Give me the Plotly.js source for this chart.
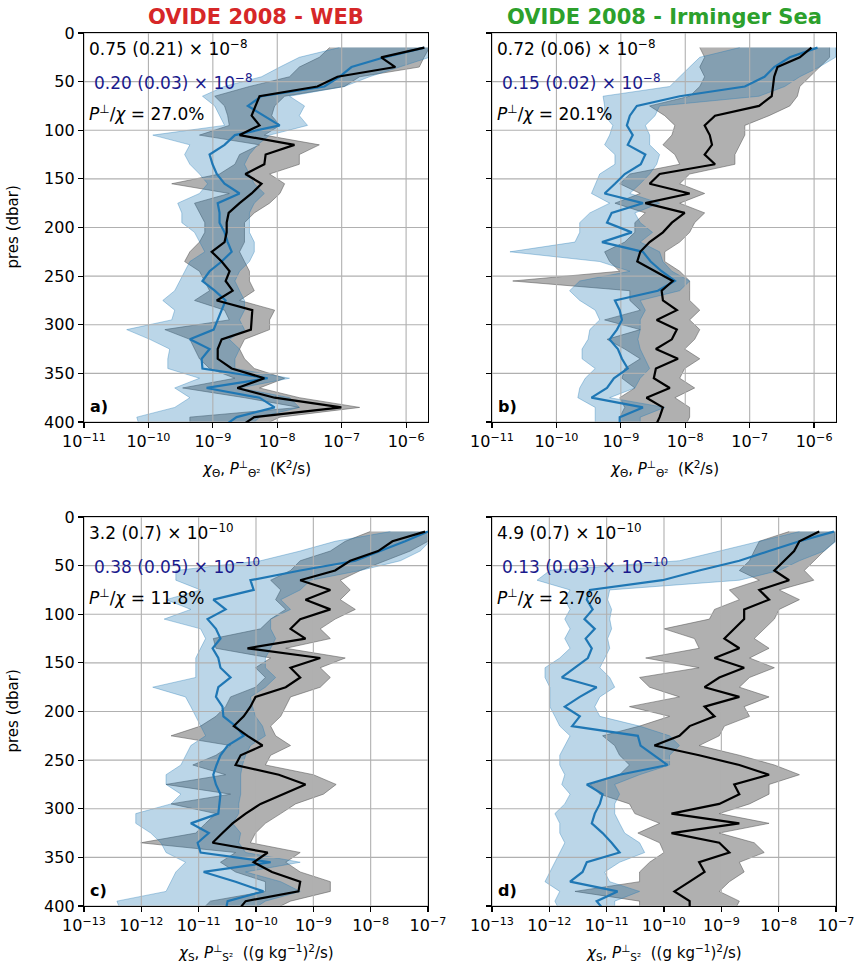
<!DOCTYPE html>
<html><head><meta charset="utf-8">
<script src="https://cdn.plot.ly/plotly-3.0.1.min.js"></script>
<style>body{margin:0;background:#fff}#plot{width:862px;height:970px}</style>
</head><body><div id="plot"></div>
<script>
// pressure levels (dbar)
const pres = [15,25,35,45,55,65,75,85,95,105,115,125,135,145,155,165,175,185,195,205,215,225,235,245,255,265,275,285,295,305,315,325,335,345,355,365,375,385,395,405];

// Panel a: OVIDE 2008 - WEB, temperature
const chiA   = [1.92e-6,4.1e-7,6.8e-7,8.6e-8,4.2e-8,5.3e-9,4.6e-9,4.0e-9,5.3e-9,2.6e-9,1.85e-8,6.6e-9,6.3e-9,3.2e-9,5.7e-9,4.0e-9,2.6e-9,1.76e-9,1.64e-9,1.64e-9,1.52e-9,9.6e-10,1.37e-9,1.82e-9,1.58e-9,2.03e-9,1.15e-9,4.1e-9,4.0e-9,3.9e-9,1.37e-9,1.19e-9,1.19e-9,1.96e-9,6.3e-9,2.4e-9,9.1e-9,9.9e-8,4.4e-9,2.6e-9];
const chiALo = [6.5e-8,4.5e-8,2.2e-8,1.55e-8,3.7e-9,1.07e-9,1.52e-9,1.7e-9,1.8e-9,6.2e-10,5.3e-9,2.6e-9,2.2e-9,1.27e-9,2.3e-10,1.8e-9,5.2e-10,6.2e-10,7.5e-10,7.5e-10,6.2e-10,4.4e-10,3.65e-10,6.2e-10,7.5e-10,8.9e-10,5.2e-10,1.52e-9,1.8e-9,1.8e-10,4.4e-10,5.2e-10,6.2e-10,8.9e-10,2.2e-9,3.4e-10,3.1e-9,2.2e-8,4.4e-10,4.4e-10];
const chiAHi = [2.3e-6,1.9e-6,1.6e-6,1.9e-7,1.1e-7,1.3e-8,9.1e-9,8.2e-9,1.1e-8,6.3e-9,4.5e-8,2.2e-8,2.2e-8,7.6e-9,1.3e-8,1.1e-8,7.6e-9,4.4e-9,3.1e-9,3.1e-9,3.1e-9,2.6e-9,3.1e-9,3.7e-9,3.7e-9,4.4e-9,2.6e-9,9.1e-9,7.6e-9,7.6e-9,3.1e-9,2.6e-9,3.1e-9,4.4e-9,1.3e-8,5.3e-9,2.2e-8,1.9e-7,1.1e-8,5.3e-9];
const perpA   = [1.92e-6,4.6e-7,1.42e-7,9.2e-8,5.4e-8,5.7e-9,3.5e-9,6.3e-9,1.09e-8,2.2e-9,1.52e-9,8.9e-10,9.9e-10,1.15e-9,1.52e-9,2.6e-9,1.19e-9,1.27e-9,1.27e-9,1.52e-9,1.7e-9,1.96e-9,1.37e-9,8.9e-10,6.9e-10,1.07e-9,1.58e-9,1.37e-9,1.19e-9,1.03e-9,4.4e-10,8.9e-10,6.7e-10,6.9e-10,7.1e-9,8.0e-10,5.3e-9,9.1e-9,2.34e-9,1.42e-9];
const perpALo = [9.2e-8,2.2e-8,1.1e-8,5.7e-9,1.5e-9,6.9e-10,1.07e-9,1.27e-9,1.52e-9,1.17e-10,4.4e-10,3.65e-10,4.4e-10,6.2e-10,8.3e-10,6.2e-10,2.85e-10,3.3e-10,3.3e-10,5.2e-10,6.2e-10,7.5e-10,4.4e-10,3.65e-10,3.06e-10,2.56e-10,1.67e-10,2.56e-10,2.3e-10,4.6e-11,1.05e-10,2.14e-10,2.0e-10,2.0e-10,6.2e-10,2.56e-10,4.4e-10,2.56e-10,6.6e-11,7.3e-11];
const perpAHi = [2.3e-6,2.3e-6,7.9e-7,2.7e-7,1.1e-7,1.55e-8,2.65e-8,2.2e-8,2.95e-8,7.6e-9,4.95e-9,3.7e-9,3.1e-9,3.7e-9,4.4e-9,6.3e-9,4.4e-9,3.7e-9,3.7e-9,3.7e-9,4.4e-9,4.4e-9,3.7e-9,2.6e-9,2.2e-9,2.6e-9,3.1e-9,3.1e-9,2.6e-9,3.1e-9,1.8e-9,2.6e-9,2.2e-9,2.2e-9,1.55e-8,2.6e-9,1.55e-8,2.2e-8,5.3e-9,3.7e-9];

// Panel b: OVIDE 2008 - Irminger Sea, temperature
const chiB   = [9.1e-7,6.0e-7,2.7e-7,2.4e-7,2.3e-7,2.2e-7,1.4e-7,2.9e-8,2.0e-8,2.4e-8,2.6e-8,2.0e-8,2.9e-8,4.0e-9,2.8e-9,1.17e-8,2.4e-9,9.8e-9,6.2e-9,4.5e-9,2.8e-9,2.0e-9,1.8e-9,3.4e-9,6.4e-9,4.3e-9,4.5e-9,7.4e-9,3.6e-9,7.4e-9,6.2e-9,3.5e-9,7.7e-9,3.5e-9,3.25e-9,5.75e-9,2.5e-9,4.5e-9,4.0e-9,3.4e-9];
const chiBLo = [1.68e-8,2.0e-8,1.68e-8,2.0e-8,1.68e-8,1.17e-8,2.8e-9,4.8e-9,6.9e-9,6.2e-9,4.5e-9,6.9e-9,8.2e-9,1.38e-9,9.6e-10,2.0e-9,8.1e-10,2.4e-9,1.65e-9,1.65e-9,1.15e-9,5.6e-10,6.7e-10,9.6e-10,2.1e-11,1.38e-9,1.38e-9,2.0e-9,5.6e-10,2.0e-9,6.1e-10,1.15e-9,2.0e-9,1.15e-9,1.04e-9,1.65e-9,9.6e-10,1.15e-9,9.6e-10,9.6e-10];
const chiBHi = [1.74e-6,1.74e-6,1.2e-6,8.5e-7,6.0e-7,5.5e-7,4.2e-7,2.0e-7,8.4e-8,8.4e-8,7.0e-8,5.9e-8,5.9e-8,1.17e-8,8.2e-9,2.0e-8,8.2e-9,2.0e-8,1.4e-8,1.17e-8,8.2e-9,4.8e-9,4.8e-9,8.2e-9,1.17e-8,1.17e-8,1.17e-8,1.68e-8,1.17e-8,1.68e-8,1.4e-8,9.8e-9,1.68e-8,9.8e-9,8.2e-9,1.4e-8,6.9e-9,1.17e-8,1.17e-8,9.8e-9];
const perpB   = [1.13e-6,4.2e-7,2.4e-7,1.7e-7,8.4e-8,8.2e-9,1.77e-9,1.38e-9,1.24e-9,1.53e-9,1.28e-9,2.4e-9,2.04e-9,1.15e-9,8.1e-10,5.6e-10,2.2e-9,7.2e-10,6.1e-10,1.48e-9,5.1e-10,2.2e-9,2.9e-9,4.3e-9,6.9e-9,3.75e-9,8.1e-10,9.6e-10,1.04e-9,8.7e-10,6.7e-10,9.0e-10,1.04e-9,1.28e-9,7.8e-10,6.1e-10,3.5e-10,2.2e-9,9.6e-10,9.6e-10];
const perpBLo = [7.0e-8,1.68e-8,1.17e-8,8.2e-9,5.75e-9,5.3e-10,5.6e-10,5.6e-10,7.5e-10,6.7e-10,5.6e-10,8.1e-10,8.1e-10,4.7e-10,4.0e-10,3.5e-10,6.7e-10,3.3e-10,2.3e-10,2.3e-10,1.94e-10,1.9e-11,4.7e-10,1.38e-9,2.3e-10,1.6e-10,2.3e-10,4.0e-10,4.7e-10,3.3e-10,3.1e-10,2.5e-10,2.5e-10,4.0e-10,2.8e-10,2.3e-10,2.15e-10,4.0e-10,4.0e-10,4.0e-10];
const perpBHi = [2.15e-6,2.15e-6,1.2e-6,6.0e-7,3.5e-7,1.4e-7,4.0e-9,3.4e-9,2.4e-9,2.8e-9,2.8e-9,4.0e-9,3.6e-9,2.8e-9,2.0e-9,1.38e-9,4.0e-9,1.65e-9,2.0e-9,3.1e-9,2.0e-9,4.0e-9,4.5e-9,6.2e-9,1.17e-8,8.2e-9,2.0e-9,2.4e-9,2.0e-9,2.0e-9,1.84e-9,2.0e-9,2.4e-9,2.8e-9,2.0e-9,1.65e-9,6.7e-10,4.8e-9,2.0e-9,2.0e-9];

// Panel c: OVIDE 2008 - WEB, salinity
const chiC   = [8.9e-8,2.4e-8,1.35e-8,4.4e-9,2.4e-9,5.9e-10,1.98e-9,7.3e-10,1.98e-9,5.9e-10,4.0e-10,7.3e-10,7.1e-11,1.32e-9,4.0e-10,5.9e-10,3.3e-10,9.8e-11,8.0e-11,6.1e-11,4.1e-11,7.1e-11,1.3e-10,5.4e-11,4.4e-11,2.5e-10,7.3e-10,3.0e-10,1.2e-10,6.6e-11,3.9e-11,2.6e-11,1.75e-11,1.6e-10,9.1e-11,1.9e-10,5.9e-10,5.5e-10,6.6e-11,4.8e-11];
const chiCLo = [9.8e-9,3.6e-9,1.98e-9,5.9e-10,4.0e-10,1.8e-10,2.7e-10,2.2e-10,3.3e-10,1.8e-10,1.2e-10,1.8e-11,2.0e-11,1.8e-10,9.8e-11,1.46e-10,9.8e-11,3.6e-11,2.95e-11,2.0e-11,1.08e-11,3.3e-12,3.6e-11,2.0e-11,7.9e-12,2.95e-11,2.7e-12,3.6e-11,3.3e-12,2.0e-11,1.32e-11,8.9e-12,9.8e-13,4.4e-11,2.4e-11,4.4e-11,1.46e-10,1.46e-10,1.6e-11,1.08e-11];
const chiCHi = [1.08e-7,1.0e-7,4.9e-8,1.8e-8,6.6e-9,2.95e-9,4.4e-9,2.95e-9,5.4e-9,2.4e-9,1.32e-9,1.98e-9,3.3e-10,3.6e-9,1.32e-9,1.98e-9,1.32e-9,4.0e-10,3.3e-10,2.7e-10,1.8e-10,2.2e-10,4.0e-10,1.8e-10,1.46e-10,1.0e-9,2.5e-9,1.5e-9,4.9e-10,2.7e-10,1.46e-10,9.8e-11,8.0e-11,5.9e-10,3.3e-10,5.9e-10,1.98e-9,1.98e-9,4.0e-10,1.8e-10];
const perpC   = [1.0e-7,4.0e-8,1.46e-8,5.4e-9,5.9e-10,8.0e-11,9.1e-11,1.8e-11,2.95e-11,1.43e-11,2.0e-11,2.4e-11,1.75e-11,2.2e-11,2.4e-11,3.6e-11,2.2e-11,2.0e-11,2.6e-11,2.7e-11,4.4e-11,6.1e-11,3.2e-11,2.4e-11,2.05e-11,1.8e-11,2.0e-11,2.4e-11,2.3e-11,2.2e-11,7.3e-12,1.5e-11,9.6e-12,1.08e-11,1.8e-10,1.22e-11,4.4e-11,1.35e-10,3.2e-11,2.95e-11];
const perpCLo = [2.2e-8,2.4e-9,5.9e-10,1.2e-10,4.0e-12,4.0e-12,1.08e-11,2.7e-12,7.3e-12,2.5e-12,1.08e-11,1.32e-11,1.08e-11,8.9e-12,8.9e-12,8.9e-12,1.58e-12,5.9e-12,7.3e-12,8.9e-12,1.08e-11,1.32e-11,7.3e-12,5.9e-12,4.9e-12,2.7e-12,2.7e-12,4.9e-12,3.3e-12,8.0e-13,8.0e-13,1.46e-12,2.2e-12,2.7e-12,5.9e-12,4.0e-12,3.3e-12,2.7e-12,3.75e-13,4.4e-13];
const perpCHi = [1.08e-7,1.08e-7,7.3e-8,3.3e-8,6.6e-9,8.9e-10,5.9e-10,2.7e-10,4.0e-10,1.8e-10,1.8e-10,2.2e-10,1.8e-10,1.46e-10,1.46e-10,2.2e-10,1.46e-10,8.0e-11,8.7e-11,9.8e-11,1.3e-10,1.46e-10,8.0e-11,6.6e-11,5.8e-11,5.4e-11,5.4e-11,5.4e-11,5.0e-11,5.0e-11,3.9e-11,5.4e-11,5.0e-11,6.6e-11,5.9e-10,6.6e-11,2.7e-10,5.9e-10,1.46e-10,8.0e-11];

// Panel d: OVIDE 2008 - Irminger Sea, salinity
const chiD   = [5.1e-8,2.3e-8,1.86e-8,1.25e-8,8.4e-9,1.52e-8,4.6e-9,6.8e-9,2.5e-9,2.5e-9,1.68e-9,1.13e-9,2.06e-9,7.6e-10,2.5e-9,9.2e-10,5.1e-10,2.06e-9,5.1e-10,7.6e-10,2.8e-10,1.86e-10,6.8e-11,4.1e-10,2.06e-9,6.8e-9,1.68e-9,2.06e-9,9.2e-10,1.35e-10,2.06e-9,1.35e-10,9.2e-10,1.38e-9,4.1e-10,5.1e-10,2.8e-10,1.52e-10,2.8e-10,2.8e-10];
const chiDLo = [1.52e-8,4.6e-9,3.75e-9,3.1e-9,2.06e-9,4.6e-9,1.38e-9,2.06e-9,7.6e-10,6.2e-10,1.0e-10,3.4e-10,4.1e-10,4.8e-11,4.1e-10,3.75e-11,5.6e-11,1.86e-10,2.5e-11,1.25e-10,3.75e-11,8.5e-12,1.38e-11,1.68e-11,2.5e-11,1.68e-11,5.1e-12,7.6e-12,2.5e-11,3.1e-11,8.4e-11,3.5e-11,8.4e-11,1.0e-10,5.6e-11,3.75e-11,3.75e-11,2.8e-12,3.75e-11,3.75e-11];
const chiDHi = [9.6e-8,9.6e-8,6.2e-8,4.1e-8,2.8e-8,4.1e-8,1.02e-8,2.3e-8,1.02e-8,8.4e-9,5.6e-9,3.75e-9,6.8e-9,3.1e-9,8.4e-9,3.1e-9,2.06e-9,6.8e-9,2.5e-9,3.1e-9,1.13e-9,9.2e-10,4.1e-10,2.06e-9,8.4e-9,2.3e-8,6.8e-9,6.8e-9,3.1e-9,9.2e-10,6.8e-9,9.2e-10,3.75e-9,5.6e-9,2.06e-9,2.5e-9,1.38e-9,9.2e-10,2.06e-9,1.68e-9];
const perpD   = [9.2e-8,2.3e-8,6.8e-9,2.06e-9,4.1e-10,9.4e-11,5.1e-12,4.5e-12,5.7e-12,4.1e-12,6.2e-12,4.3e-12,5.5e-12,4.7e-12,2.8e-12,1.65e-12,6.7e-12,3.4e-12,1.86e-12,3.4e-12,2.5e-12,3.5e-11,3.9e-11,6.8e-11,1.15e-10,1.68e-11,4.5e-12,8.5e-12,7.6e-12,6.2e-12,5.5e-12,8.5e-12,1.22e-11,1.68e-11,4.5e-12,3.8e-12,2.3e-12,1.55e-11,6.7e-12,9.2e-12];
const perpDLo = [2.3e-8,4.6e-9,9.2e-10,1.86e-10,1.02e-12,6.1e-13,2.3e-12,1.86e-12,2.3e-12,1.86e-12,2.3e-12,1.86e-12,2.3e-12,1.52e-12,8.4e-13,8.4e-13,1.02e-12,1.02e-12,1.02e-12,1.25e-12,1.52e-12,2.3e-12,1.86e-12,1.52e-12,1.52e-12,1.86e-12,1.65e-12,2.3e-12,1.86e-12,1.25e-12,1.52e-12,1.52e-12,1.86e-12,1.52e-12,1.25e-12,1.02e-12,8.4e-13,1.52e-12,1.25e-12,1.52e-12];
const perpDHi = [1.0e-7,1.0e-7,6.2e-8,2.3e-8,1.02e-8,2.06e-9,1.13e-11,1.04e-11,1.22e-11,1.13e-11,1.22e-11,1.04e-11,1.13e-11,9.2e-12,7.6e-12,1.13e-11,1.38e-11,7.6e-12,6.2e-12,7.6e-12,3.75e-11,1.25e-10,1.86e-10,1.25e-10,1.25e-10,3.75e-11,1.38e-11,1.68e-11,1.38e-11,1.38e-11,1.68e-11,2.06e-11,3.75e-11,4.6e-11,1.68e-11,9.2e-12,1.13e-11,3.75e-11,1.38e-11,1.38e-11];

// Text
const panelTitles = ['OVIDE 2008 - WEB', 'OVIDE 2008 - Irminger Sea'];
const chiText  = ['0.75 (0.21) × 10<sup>−8</sup>', '0.72 (0.06) × 10<sup>−8</sup>', '3.2 (0.7) × 10<sup>−10</sup>', '4.9 (0.7) × 10<sup>−10</sup>'];
const perpText = ['0.20 (0.03) × 10<sup>−8</sup>', '0.15 (0.02) × 10<sup>−8</sup>', '0.38 (0.05) × 10<sup>−10</sup>', '0.13 (0.03) × 10<sup>−10</sup>'];
const ratioText = ['27.0%', '20.1%', '11.8%', '2.7%'];
const panelLetters = ['a)', 'b)', 'c)', 'd)'];
const topTicks = [1e-11,1e-10,1e-9,1e-8,1e-7,1e-6];
const topTickText = ['10<sup>−11</sup>','10<sup>−10</sup>','10<sup>−9</sup>','10<sup>−8</sup>','10<sup>−7</sup>','10<sup>−6</sup>'];
const botTicks = [1e-13,1e-12,1e-11,1e-10,1e-9,1e-8,1e-7];
const botTickText = ['10<sup>−13</sup>','10<sup>−12</sup>','10<sup>−11</sup>','10<sup>−10</sup>','10<sup>−9</sup>','10<sup>−8</sup>','10<sup>−7</sup>'];
const presTicks = [0,50,100,150,200,250,300,350,400];
const topRange = [-11, -5.66];
const botRange = [-13, -7];

const FONT = 'DejaVu Sans, sans-serif';
const W = 862, H = 970;
const GRID = '#b0b0b0';
// panel boxes in pixels [left, right, top, bottom]
const boxes = [[84,428,33,422],[492,836,33,422],[84,428,517,906],[492,836,517,906]];

const sets = [
  [chiA, chiALo, chiAHi, perpA, perpALo, perpAHi],
  [chiB, chiBLo, chiBHi, perpB, perpBLo, perpBHi],
  [chiC, chiCLo, chiCHi, perpC, perpCLo, perpCHi],
  [chiD, chiDLo, chiDHi, perpD, perpDLo, perpDHi]
];

const traces = [];
const revP = pres.slice().reverse();
sets.forEach((s, i) => {
  const ax = i === 0 ? '' : String(i + 1);
  const xa = 'x' + ax, ya = 'y' + ax;
  const top = i < 2;
  traces.push({x: s[1].concat(s[2].slice().reverse()), y: pres.concat(revP), xaxis: xa, yaxis: ya,
    type: 'scatter', mode: 'lines', fill: 'toself', fillcolor: 'rgba(128,128,128,0.62)',
    line: {color: 'rgba(90,90,90,0.55)', width: 1}, hoverinfo: 'skip', showlegend: false});
  traces.push({x: s[4].concat(s[5].slice().reverse()), y: pres.concat(revP), xaxis: xa, yaxis: ya,
    type: 'scatter', mode: 'lines', fill: 'toself', fillcolor: 'rgba(31,119,180,0.3)',
    line: {color: 'rgba(31,119,180,0.35)', width: 1}, hoverinfo: 'skip', showlegend: false});
  // grid drawn above the shaded bands but below the lines (as in the original)
  const tv = top ? topTicks : botTicks;
  const rg = top ? topRange : botRange;
  const gx = [], gy = [];
  tv.forEach(v => { gx.push(v, v, null); gy.push(presTicks[0], presTicks[presTicks.length - 1], null); });
  presTicks.forEach(p => { gx.push(Math.pow(10, rg[0]), Math.pow(10, rg[1]), null); gy.push(p, p, null); });
  traces.push({x: gx, y: gy, xaxis: xa, yaxis: ya, type: 'scatter', mode: 'lines',
    line: {color: GRID, width: 1.1}, hoverinfo: 'skip', showlegend: false, connectgaps: false});
  traces.push({x: s[3], y: pres, xaxis: xa, yaxis: ya, type: 'scatter', mode: 'lines',
    line: {color: '#1f77b4', width: 2.2}, showlegend: false});
  traces.push({x: s[0], y: pres, xaxis: xa, yaxis: ya, type: 'scatter', mode: 'lines',
    line: {color: '#000000', width: 2.2}, showlegend: false});
});

const layout = {
  width: W, height: H, margin: {l: 0, r: 0, t: 0, b: 0},
  paper_bgcolor: '#fff', plot_bgcolor: '#fff',
  font: {family: FONT, size: 14, color: '#000'},
  showlegend: false, annotations: []
};

boxes.forEach((b, i) => {
  const ax = i === 0 ? '' : String(i + 1);
  const top = i < 2;
  layout['xaxis' + ax] = {
    type: 'log', domain: [b[0] / W, b[1] / W], anchor: 'y' + ax,
    range: top ? topRange : botRange,
    tickvals: top ? topTicks : botTicks, ticktext: top ? topTickText : botTickText,
    showline: true, mirror: true, linecolor: '#000', linewidth: 1.2, layer: 'above traces',
    ticks: 'outside', ticklen: 5, tickwidth: 1.2, tickcolor: '#000',
    showgrid: false, zeroline: false,
    tickfont: {family: FONT, size: 16, color: '#000'}
  };
  layout['yaxis' + ax] = {
    domain: [1 - b[3] / H, 1 - b[2] / H], anchor: 'x' + ax,
    range: [400, 0], tickvals: presTicks, showticklabels: (i % 2 === 0),
    showline: true, mirror: true, linecolor: '#000', linewidth: 1.2, layer: 'above traces',
    ticks: 'outside', ticklen: 5, tickwidth: 1.2, tickcolor: '#000',
    showgrid: false, zeroline: false,
    tickfont: {family: FONT, size: 16, color: '#000'}
  };
  const xd = 'x' + ax + ' domain', yd = 'y' + ax + ' domain';
  layout.annotations.push(
    {xref: xd, yref: yd, x: 0.008, y: 0.962, xanchor: 'left', yanchor: 'middle', showarrow: false,
     text: chiText[i], font: {family: FONT, size: 17, color: '#000'}},
    {xref: xd, yref: yd, x: 0.022, y: 0.874, xanchor: 'left', yanchor: 'middle', showarrow: false,
     text: perpText[i], font: {family: FONT, size: 17, color: '#1a1a8c'}},
    {xref: xd, yref: yd, x: 0.008, y: 0.795, xanchor: 'left', yanchor: 'middle', showarrow: false,
     text: '<i>P</i><sup>⊥</sup>/<i>χ</i> = ' + ratioText[i], font: {family: FONT, size: 17, color: '#000'}},
    {xref: xd, yref: yd, x: 0.012, y: 0.04, xanchor: 'left', yanchor: 'middle', showarrow: false,
     text: '<b>' + panelLetters[i] + '</b>', font: {family: FONT, size: 16, color: '#000'}}
  );
  // x-axis titles
  layout.annotations.push({xref: 'paper', yref: 'paper', x: (b[0] + b[1]) / 2 / W, y: 1 - (top ? 468 : 952) / H,
    xanchor: 'center', yanchor: 'middle', showarrow: false,
    text: top ? '<i>χ</i><sub>Θ</sub>, <i>P</i><sup>⊥</sup><sub>Θ²</sub>  (K<sup>2</sup>/s)'
              : '<i>χ</i><sub>S</sub>, <i>P</i><sup>⊥</sup><sub>S²</sub>  ((g kg<sup>−1</sup>)<sup>2</sup>/s)',
    font: {family: FONT, size: 15, color: '#000'}});
  if (i % 2 === 0) {
    layout.annotations.push({xref: 'paper', yref: 'paper', x: 12 / W, y: 1 - (b[2] + b[3]) / 2 / H,
      xanchor: 'center', yanchor: 'middle', textangle: -90, showarrow: false,
      text: 'pres (dbar)', font: {family: FONT, size: 15, color: '#000'}});
  }
});
layout.annotations.push(
  {xref: 'paper', yref: 'paper', x: 256 / W, y: 1 - 17 / H, xanchor: 'center', yanchor: 'middle', showarrow: false,
   text: '<b>' + panelTitles[0] + '</b>', font: {family: FONT, size: 21, color: '#d62728'}},
  {xref: 'paper', yref: 'paper', x: 664 / W, y: 1 - 17 / H, xanchor: 'center', yanchor: 'middle', showarrow: false,
   text: '<b>' + panelTitles[1] + '</b>', font: {family: FONT, size: 21, color: '#2ca02c'}}
);

Plotly.newPlot('plot', traces, layout, {staticPlot: true, displayModeBar: false});
</script></body></html>
